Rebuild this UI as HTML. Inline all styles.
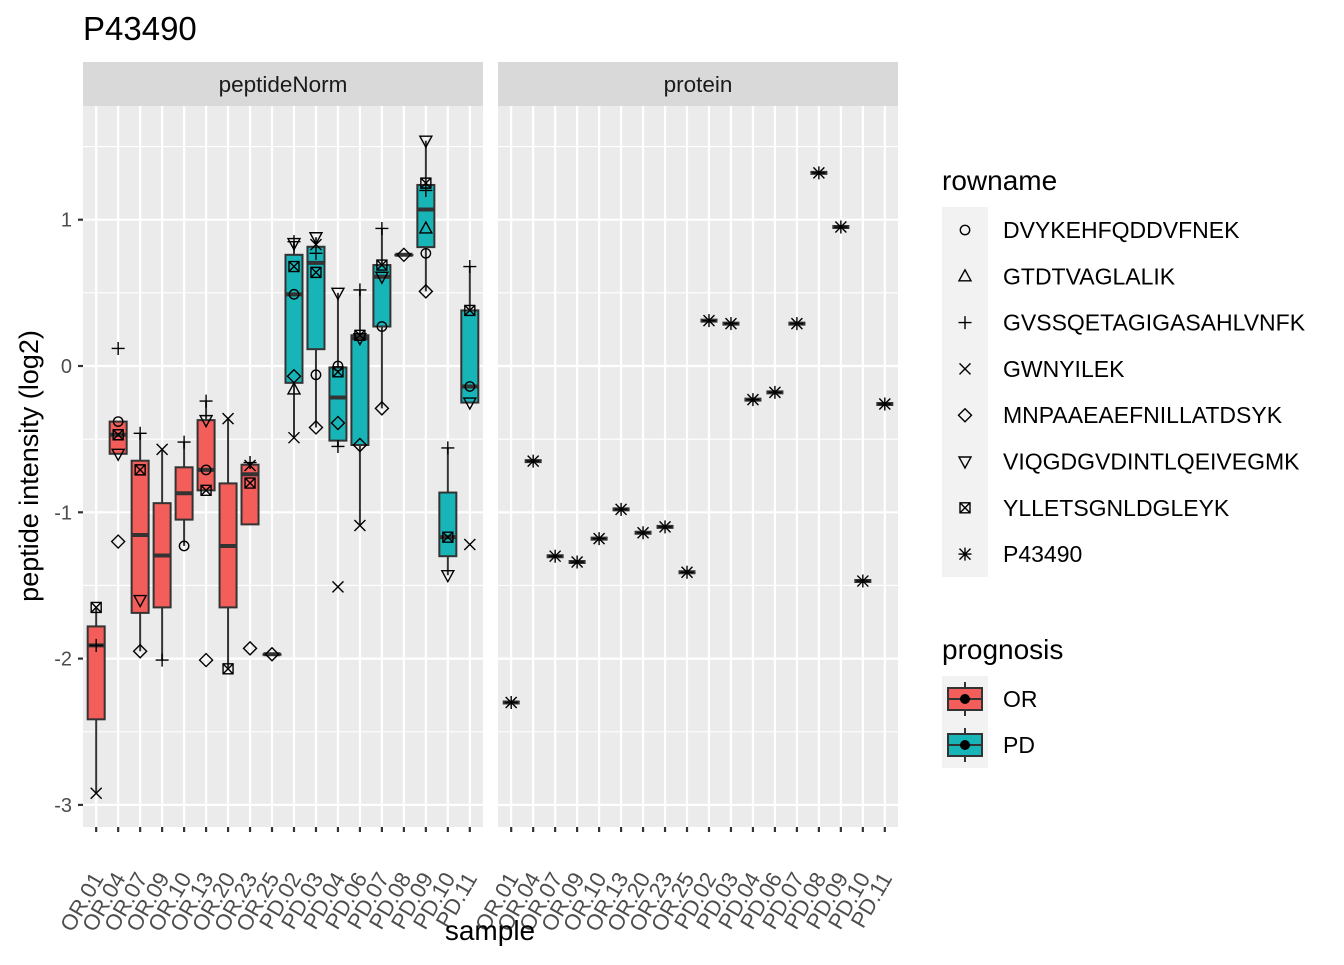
<!DOCTYPE html>
<html><head><meta charset="utf-8"><style>
body{margin:0;background:#fff}
svg text{font-family:"Liberation Sans",Arial,sans-serif}
</style></head><body>
<svg id="chart" width="1344" height="960" xmlns="http://www.w3.org/2000/svg">
<text x="83" y="40" font-size="33" fill="#000">P43490</text>
<g id="g"></g>
</svg>
<script>
const samples=["OR.01","OR.04","OR.07","OR.09","OR.10","OR.13","OR.20","OR.23","OR.25","PD.02","PD.03","PD.04","PD.06","PD.07","PD.08","PD.09","PD.10","PD.11"];
const peptides=["DVYKEHFQDDVFNEK","GTDTVAGLALIK","GVSSQETAGIGASAHLVNFK","GWNYILEK","MNPAAEAEFNILLATDSYK","VIQGDGVDINTLQEIVEGMK","YLLETSGNLDGLEYK","P43490"];
const shapeOf=["circle","triup","plus","cross","diamond","tridown","boxx","star"];
// peptide points per sample: [peptideIndex, value]; index -1 = hidden point
const pepPoints=[
[[6,-1.65],[2,-1.91],[3,-2.92]],
[[2,0.12],[0,-0.38],[6,-0.47],[5,-0.60],[4,-1.20]],
[[2,-0.46],[6,-0.71],[5,-1.60],[4,-1.95]],
[[3,-0.57],[-1,-1.53],[-1,-1.06],[2,-2.01]],
[[2,-0.52],[-1,-0.99],[-1,-0.75],[0,-1.23]],
[[2,-0.24],[5,-0.37],[0,-0.71],[6,-0.85],[4,-2.01]],
[[3,-0.36],[-1,-1.51],[-1,-0.95],[6,-2.07]],
[[2,-0.66],[3,-0.68],[6,-0.80],[4,-1.93]],
[[4,-1.97]],
[[5,0.84],[2,0.85],[6,0.68],[0,0.49],[4,-0.07],[1,-0.16],[3,-0.49]],
[[5,0.88],[3,0.83],[2,0.77],[6,0.64],[0,-0.06],[4,-0.42]],
[[5,0.50],[0,0.00],[6,-0.04],[4,-0.39],[2,-0.55],[3,-1.51]],
[[2,0.52],[6,0.21],[5,0.19],[4,-0.54],[3,-1.09]],
[[2,0.94],[6,0.69],[5,0.61],[0,0.27],[4,-0.29]],
[[4,0.76]],
[[5,1.54],[6,1.25],[2,1.20],[1,0.94],[0,0.77],[4,0.51]],
[[2,-0.56],[6,-1.17],[5,-1.43]],
[[2,0.68],[6,0.38],[0,-0.14],[5,-0.25],[3,-1.22]]
];
const proteinValues=[-2.30,-0.65,-1.30,-1.34,-1.18,-0.98,-1.14,-1.10,-1.41,0.31,0.29,-0.23,-0.18,0.29,1.32,0.95,-1.47,-0.26];
const yTicks=[1,0,-1,-2,-3];
const yMinor=[1.5,0.5,-0.5,-1.5,-2.5];

const NS="http://www.w3.org/2000/svg";
const g=document.getElementById('g');
function el(t,a,p){const e=document.createElementNS(NS,t);for(const k in a)e.setAttribute(k,a[k]);(p||g).appendChild(e);return e;}
const plotTop=106,plotBot=827;
function Y(v){return 366-146.3*v;}
const panels=[{x0:83,name:"peptideNorm"},{x0:498,name:"protein"}];
const pw=400;
function X(p,i){return panels[p].x0+pw*(0.6+i)/(samples.length-1+1.2);}
function fillOf(i){return samples[i].startsWith("OR")?"#F35E5A":"#17B5B8";}

function shape(kind,x,y,parent){
  const s=5.5,c="#000",w=1.4;let e;
  if(kind==="circle")e=el('circle',{cx:x,cy:y,r:s-0.8,fill:'none',stroke:c,'stroke-width':w},parent);
  else if(kind==="triup")e=el('polygon',{points:`${x},${y-s-1} ${x-s-0.5},${y+s-1} ${x+s+0.5},${y+s-1}`,fill:'none',stroke:c,'stroke-width':w},parent);
  else if(kind==="tridown")e=el('polygon',{points:`${x},${y+s+1} ${x-s-0.5},${y-s+1} ${x+s+0.5},${y-s+1}`,fill:'none',stroke:c,'stroke-width':w},parent);
  else if(kind==="plus")e=el('path',{d:`M${x-s-1} ${y}H${x+s+1}M${x} ${y-s-1}V${y+s+1}`,stroke:c,'stroke-width':w,fill:'none'},parent);
  else if(kind==="cross")e=el('path',{d:`M${x-s} ${y-s}L${x+s} ${y+s}M${x-s} ${y+s}L${x+s} ${y-s}`,stroke:c,'stroke-width':w,fill:'none'},parent);
  else if(kind==="diamond")e=el('polygon',{points:`${x},${y-s-1} ${x+s+1},${y} ${x},${y+s+1} ${x-s-1},${y}`,fill:'none',stroke:c,'stroke-width':w},parent);
  else if(kind==="boxx"){const r=s-0.5;e=el('path',{d:`M${x-r} ${y-r}h${2*r}v${2*r}h${-2*r}zM${x-r} ${y-r}L${x+r} ${y+r}M${x-r} ${y+r}L${x+r} ${y-r}`,stroke:c,'stroke-width':w,fill:'none'},parent);}
  else if(kind==="star")e=el('path',{d:`M${x-s-1} ${y}H${x+s+1}M${x} ${y-s-1}V${y+s+1}M${x-s} ${y-s}L${x+s} ${y+s}M${x-s} ${y+s}L${x+s} ${y-s}`,stroke:c,'stroke-width':w,fill:'none'},parent);
  return e;
}
function q(a,p){const s=[...a].sort((x,y)=>x-y);const h=(s.length-1)*p,l=Math.floor(h);return s[l]+(h-l)*((s[Math.min(l+1,s.length-1)])-s[l]);}

panels.forEach((P,pi)=>{
  const r=el('rect',{x:P.x0,y:plotTop,width:pw,height:plotBot-plotTop,fill:'#EBEBEB'});
  
  
  const sr=el('rect',{x:P.x0,y:62,width:pw,height:44,fill:'#D9D9D9'});
  
  
  const st=el('text',{x:P.x0+pw/2,y:92,'font-size':22.5,'text-anchor':'middle',fill:'#1A1A1A'});st.textContent=P.name;
  
  
  yMinor.forEach(v=>el('line',{x1:P.x0,x2:P.x0+pw,y1:Y(v),y2:Y(v),stroke:'#fff','stroke-width':1.1}));
  yTicks.forEach(v=>el('line',{x1:P.x0,x2:P.x0+pw,y1:Y(v),y2:Y(v),stroke:'#fff','stroke-width':2.2}));
  samples.forEach((s,i)=>{
    el('line',{x1:X(pi,i),x2:X(pi,i),y1:plotTop,y2:plotBot,stroke:'#fff','stroke-width':2.2});
    el('line',{x1:X(pi,i),x2:X(pi,i),y1:plotBot,y2:plotBot+5,stroke:'#333','stroke-width':2.2});
    const t=el('text',{x:0,y:0,'font-size':22,'text-anchor':'end',fill:'#4D4D4D',transform:`translate(${X(pi,i)+8},878) rotate(-60)`});
    t.textContent=s;
    
    
  });
});
yTicks.forEach(v=>{
  el('line',{x1:78,x2:83,y1:Y(v),y2:Y(v),stroke:'#333','stroke-width':2.2});
  const t=el('text',{x:72,y:Y(v)+7,'font-size':20,'text-anchor':'end',fill:'#4D4D4D'});t.textContent=v;
  
  
});
const yt=el('text',{x:0,y:0,'font-size':27,'text-anchor':'middle',fill:'#000',transform:'translate(38,466) rotate(-90)'});yt.textContent='peptide intensity (log2)';


const xt=el('text',{x:490,y:940,'font-size':28,'text-anchor':'middle',fill:'#000'});xt.textContent='sample';



pepPoints.forEach((pts,i)=>{
  const vals=pts.map(p=>p[1]);
  const q1=q(vals,0.25),q3=q(vals,0.75),md=q(vals,0.5),iqr=q3-q1;
  const lo=Math.min(...vals.filter(v=>v>=q1-1.5*iqr)),hi=Math.max(...vals.filter(v=>v<=q3+1.5*iqr));
  const x=X(0,i),hw=8.5;
  const bg=el('g',{});
  
  
  el('line',{x1:x,x2:x,y1:Y(hi),y2:Y(q3),stroke:'#333','stroke-width':2},bg);
  el('line',{x1:x,x2:x,y1:Y(q1),y2:Y(lo),stroke:'#333','stroke-width':2},bg);
  el('rect',{x:x-hw,y:Y(q3),width:2*hw,height:Math.max(Y(q1)-Y(q3),0.5),fill:fillOf(i),stroke:'#333','stroke-width':2},bg);
  el('line',{x1:x-hw,x2:x+hw,y1:Y(md),y2:Y(md),stroke:'#333','stroke-width':4},bg);
  pts.forEach(p=>{if(p[0]<0)return;const s=shape(shapeOf[p[0]],x,Y(p[1]));
    
    });
});
proteinValues.forEach((v,i)=>{
  const x=X(1,i);
  const b=el('line',{x1:x-8.5,x2:x+8.5,y1:Y(v),y2:Y(v),stroke:'#333','stroke-width':4});
  
  
  const s=shape('star',x,Y(v));
  
  
});

const lt=el('text',{x:942,y:190,'font-size':28,fill:'#000'});lt.textContent='rowname';


el('rect',{x:942,y:207,width:46,height:370,fill:'#F2F2F2'});
peptides.forEach((p,k)=>{
  const y=230+k*46.3;
  const s=shape(shapeOf[k],965,y);
  
  
  const t=el('text',{x:1003,y:y+8,'font-size':23,fill:'#000'});t.textContent=p;
  
  
});
const pt=el('text',{x:942,y:659,'font-size':28,fill:'#000'});pt.textContent='prognosis';


el('rect',{x:942,y:676,width:46,height:92,fill:'#F2F2F2'});
[["OR","#F35E5A"],["PD","#17B5B8"]].forEach((d,k)=>{
  const y=699+k*46;
  el('line',{x1:965,x2:965,y1:y-17,y2:y+17,stroke:'#333','stroke-width':2});
  el('rect',{x:948,y:y-11,width:34,height:22,fill:d[1],stroke:'#333','stroke-width':2});
  el('line',{x1:948,x2:982,y1:y,y2:y,stroke:'#333','stroke-width':2});
  el('circle',{cx:965,cy:y,r:5,fill:'#000'});
  const t=el('text',{x:1003,y:y+8,'font-size':23,fill:'#000'});t.textContent=d[0];
  
  
});
</script>
</body></html>
